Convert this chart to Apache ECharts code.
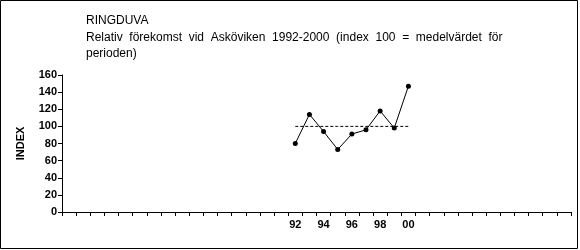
<!DOCTYPE html>
<html><head><meta charset="utf-8">
<script src="https://cdn.jsdelivr.net/npm/echarts@6/dist/echarts.min.js"></script>
<style>html,body{margin:0;padding:0;background:#fff}#c{width:580px;height:250px}</style>
</head><body><div id="c"></div>
<script>
// categories: years 1976-2011 as two-digit labels
const categories = ['76','77','78','79','80','81','82','83','84','85','86','87','88','89','90','91','92','93','94','95','96','97','98','99','00','01','02','03','04','05','06','07','08','09','10','11'];
const dataYears = ['92','93','94','95','96','97','98','99','00'];
const indexValues = [80, 114, 94, 73, 91, 96, 118, 98, 147];
const meanValue = 100;
const tickLabels = ['92','94','96','98','00'];

const lineData = categories.map(c => { const i = dataYears.indexOf(c); return i >= 0 ? indexValues[i] : null; });
const meanData = categories.map(c => dataYears.indexOf(c) >= 0 ? meanValue : null);

const chart = echarts.init(document.getElementById('c'), null, {renderer:'canvas'});
chart.setOption({
  animation: false,
  backgroundColor: '#fff',
  textStyle: {fontFamily: 'Liberation Sans, Arial, sans-serif'},
  graphic: [{
    type: 'rect', shape: {x: 0.5, y: 0.5, width: 577, height: 248},
    style: {fill: 'none', stroke: '#000', lineWidth: 1}, silent: true
  }],
  title: {
    text: 'RINGDUVA',
    subtext: 'Relativ  förekomst  vid  Asköviken  1992-2000  (index  100  =  medelvärdet  för\nperioden)',
    left: 81, top: 8, itemGap: 2,
    textStyle: {fontSize: 12, fontWeight: 'normal', color: '#000', fontFamily: 'Liberation Sans, Arial, sans-serif', lineHeight: 15},
    subtextStyle: {fontSize: 12, color: '#000', fontFamily: 'Liberation Sans, Arial, sans-serif', lineHeight: 15.5}
  },
  grid: {left: 62, right: 9, top: 75, bottom: 38, containLabel: false},
  xAxis: {
    type: 'category', data: categories, boundaryGap: true,
    axisLine: {lineStyle: {color: '#000', width: 1}},
    axisTick: {show: true, interval: 0, length: 4, lineStyle: {color: '#000'}},
    axisLabel: {interval: 0, fontSize: 11, fontWeight: 'bold', color: '#000', margin: 7,
      formatter: v => tickLabels.indexOf(v) >= 0 ? v : ''},
    splitLine: {show: false}
  },
  yAxis: {
    type: 'value', min: 0, max: 160, interval: 20,
    name: 'INDEX', nameLocation: 'middle', nameGap: 36, nameRotate: 90,
    nameTextStyle: {fontSize: 11, fontWeight: 'bold', color: '#000'},
    axisLine: {show: true, lineStyle: {color: '#000', width: 1}},
    axisTick: {show: true, length: 4, lineStyle: {color: '#000'}},
    axisLabel: {fontSize: 11, fontWeight: 'bold', color: '#000', margin: 5},
    splitLine: {show: false}
  },
  series: [
    {type: 'line', data: meanData, symbol: 'none', connectNulls: false,
     lineStyle: {color: '#000', width: 1, type: [3, 2]}, z: 1},
    {type: 'line', data: lineData, symbol: 'circle', symbolSize: 5, connectNulls: false,
     itemStyle: {color: '#000'}, lineStyle: {color: '#000', width: 1}, z: 2}
  ]
});
</script></body></html>
